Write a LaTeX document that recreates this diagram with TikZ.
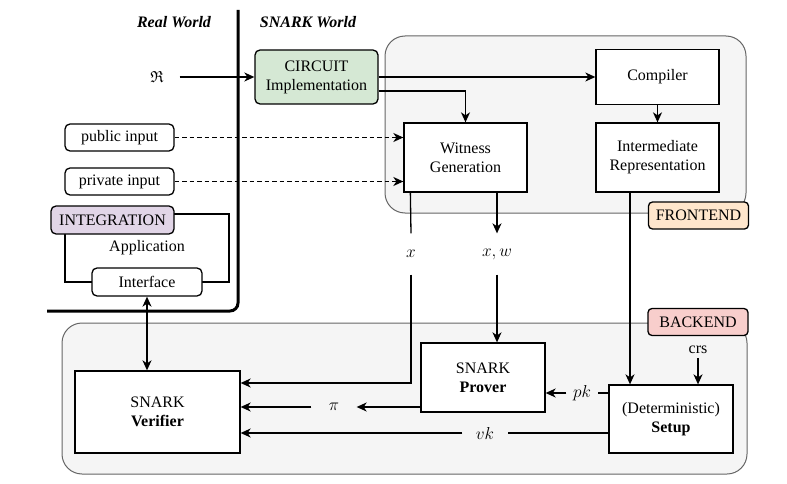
\documentclass[tikz,border=0pt]{standalone}
\usepackage{amsmath,amssymb}
\usepackage{fontspec}
\setmainfont{Liberation Serif}
\usetikzlibrary{arrows.meta,calc,positioning}
\definecolor{circfill}{HTML}{D5E8D4}
\definecolor{integfill}{HTML}{E1D5E7}
\definecolor{frontfill}{HTML}{FFE6CC}
\definecolor{backfill}{HTML}{F8CECC}
\definecolor{contfill}{HTML}{F5F5F5}
\definecolor{contdraw}{HTML}{666666}
\tikzset{
	box/.style={draw, fill=white, align=center, inner sep=0pt, line width=1.3pt},
	rbox/.style={box, rounded corners=5pt},
	tagbox/.style={box, rounded corners=4pt, minimum width=100pt, minimum height=27pt},
	container/.style={draw=contdraw, fill=contfill, line width=1pt, rounded corners=20pt},
	lbl/.style={inner sep=0pt, minimum height=40pt},
	dashline/.style={dash pattern=on 4.5pt off 3pt}
}
\begin{document}
\begin{tikzpicture}[x=1pt, y=-1pt, font=\fontsize{16}{19}\selectfont, line width=1.3pt,
	>={Stealth[length=10pt, width=9pt, inset=3pt]}]
		\useasboundingbox (0,0) rectangle (787,484);
		\node[container, minimum width=361pt, minimum height=177pt] (frontend) at (565.5,124.5) {};
		\node[container, minimum width=685pt, minimum height=151pt] (backend) at (404.5,398.5) {};
		\node[tagbox, fill=frontfill] (fronttag) at (698.5,215.5) {FRONTEND};
		\node[tagbox, fill=backfill] (backtag) at (698,322) {BACKEND};
		\node[font=\fontsize{16}{19}\selectfont\bfseries\itshape] (real) at (174,22) {Real World};
		\node[font=\fontsize{16}{19}\selectfont\bfseries\itshape] (snark) at (308,22) {SNARK World};
		\draw[line width=3pt, rounded corners=8pt] (238,10) -- (238,311) -- (47,311);
		\node (rel) at (157,77) {$\mathfrak{R}$};
		\node[rbox, fill=circfill, minimum width=123pt, minimum height=54pt] (circuit) at (316.5,77) {CIRCUIT\\Implementation};
		\node[rbox, minimum width=109pt, minimum height=27pt] (pubin) at (119.5,137.5) {public input};
		\node[rbox, minimum width=109pt, minimum height=27pt] (privin) at (119.5,181.5) {private input};
		\draw (65,214) rectangle (229,282);
		\node[rbox, fill=integfill, minimum width=123pt, minimum height=28pt] (integ) at (112.5,220) {INTEGRATION};
		\node (app) at (147,248) {Application};
		\node[rbox, minimum width=110pt, minimum height=28pt] (iface) at (147,282) {Interface};
		\node[box, minimum width=123pt, minimum height=55pt] (compiler) at (657.5,77) {Compiler};
		\node[box, minimum width=123pt, minimum height=69pt] (ir) at (657.5,157.5) {Intermediate\\Representation};
		\node[box, minimum width=123pt, minimum height=69pt] (witness) at (465.5,157.5) {Witness\\Generation};
		\node[box, minimum width=165pt, minimum height=82pt] (verifier) at (157.5,412) {SNARK\\\textbf{Verifier}};
		\node[box, minimum width=124pt, minimum height=69pt] (prover) at (483,377.5) {SNARK\\\textbf{Prover}};
		\node[box, minimum width=124pt, minimum height=68pt] (setup) at (671,419) {(Deterministic)\\\textbf{Setup}};
		\node (crs) at (698,350) {crs};
		\node[lbl] (xl) at (411,254) {$x$};
		\node[lbl] (xw) at (497,254) {$x,w$};
		\node[lbl, minimum width=44pt] (pi) at (334,407) {$\pi$};
		\node[lbl, minimum width=44pt] (vk) at (485,433) {$vk$};
		\node[lbl, minimum width=30pt] (pk) at (582,393) {$pk$};
		\coordinate (irout) at ($(ir.south)+(-27.5,0)$);
		\draw[->] (rel.east) ++(12,0) -- (circuit.west);
		\draw[->] (circuit.east) -- (compiler.west);
		\draw[->] ($(circuit.east)+(0,14)$) -| (witness.north);
		\draw[->] (compiler.south) -- (ir.north);
		\draw[dashline, ->] (pubin.east) -- (pubin.east -| witness.west);
		\draw[dashline, ->] (privin.east) -- (privin.east -| witness.west);
		\draw ($(witness.south west)+(7,0)$) -- (xl.north);
		\draw[->] (xl.south) |- ($(verifier.east)+(0,-29)$);
		\draw[->] ($(witness.south)+(31.5,0)$) -- (xw.north);
		\draw[->] (xw.south) -- (xw.south |- prover.north);
		\draw[->] (irout) -- (irout |- setup.north);
		\draw[->] (crs.south) -- (crs.south |- setup.north);
		\draw ($(setup.west)+(0,-26)$) -- (pk.east);
		\draw[->] (pk.west) -- (pk.west -| prover.east);
		\draw[->] ($(prover.west)+(0,29.5)$) -- (pi.east);
		\draw[->] (pi.west) -- (pi.west -| verifier.east);
		\draw ($(setup.west)+(0,14)$) -- (vk.east);
		\draw[->] (vk.west) -- (vk.west -| verifier.east);
		\draw[<->] (iface.south) -- (iface.south |- verifier.north);
	\end{tikzpicture}
\end{document}
